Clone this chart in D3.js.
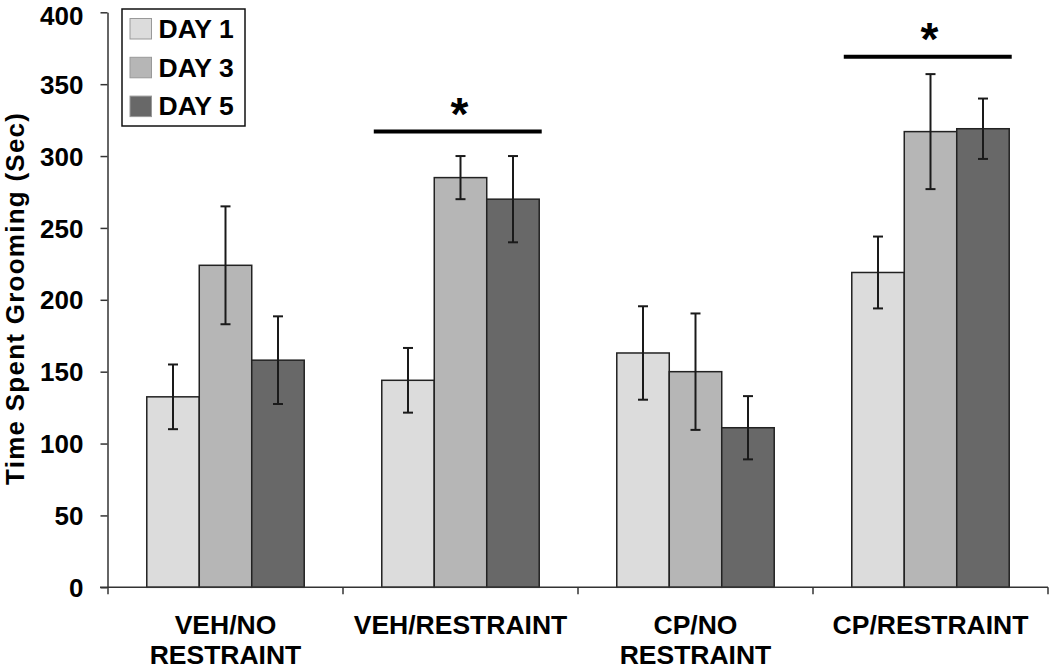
<!DOCTYPE html>
<html>
<head>
<meta charset="utf-8">
<script src="https://cdn.jsdelivr.net/npm/d3@7"></script>
<style>
  html, body { margin: 0; padding: 0; background: #fff; }
  svg { display: block; font-family: "Liberation Sans", Arial, sans-serif; font-weight: bold; }
</style>
</head>
<body>
<svg id="chart" width="1050" height="670"></svg>
<script>
// ---- data ----
const categories = ["VEH/NO RESTRAINT", "VEH/RESTRAINT", "CP/NO RESTRAINT", "CP/RESTRAINT"];
const categoryLines = [["VEH/NO", "RESTRAINT"], ["VEH/RESTRAINT"], ["CP/NO", "RESTRAINT"], ["CP/RESTRAINT"]];
const seriesNames = ["DAY 1", "DAY 3", "DAY 5"];
const day1 = [132.5, 144, 163, 219];
const day3 = [224, 285, 150, 317];
const day5 = [158, 270, 111, 319];
const day1Err = [22.5, 22.5, 32.5, 25];
const day3Err = [41, 15, 40.5, 40];
const day5Err = [30.5, 30, 22, 21];
const yTicks = [0, 50, 100, 150, 200, 250, 300, 350, 400];
const sigCategories = ["VEH/RESTRAINT", "CP/RESTRAINT"];
const sigLevels = [317, 369];
const colors = ["#dcdcdc", "#b6b6b6", "#686868"];

const seriesValues = [day1, day3, day5];
const seriesErrors = [day1Err, day3Err, day5Err];

const svg = d3.select("#chart");

const x = d3.scaleBand().domain(categories).range([108, 1048]).paddingInner(0.33).paddingOuter(0.165);
const xs = d3.scaleBand().domain(seriesNames).range([0, x.bandwidth()]);
const y = d3.scaleLinear().domain([0, 400]).range([587.3, 12.3]);

// bars
const rows = [];
categories.forEach((c, i) => {
  seriesNames.forEach((s, j) => {
    rows.push({ cat: c, ser: s, j, v: seriesValues[j][i], e: seriesErrors[j][i] });
  });
});

const g = svg.append("g");
g.selectAll("rect.bar").data(rows).join("rect")
  .attr("class", "bar")
  .attr("x", d => x(d.cat) + xs(d.ser))
  .attr("y", d => y(d.v))
  .attr("width", xs.bandwidth())
  .attr("height", d => y(0) - y(d.v))
  .attr("fill", d => colors[d.j])
  .attr("stroke", "#222")
  .attr("stroke-width", 1.5);

// error bars
const eg = g.selectAll("g.err").data(rows).join("g").attr("class", "err")
  .attr("stroke", "#1a1a1a").attr("stroke-width", 2);
eg.append("line")
  .attr("x1", d => x(d.cat) + xs(d.ser) + xs.bandwidth() / 2)
  .attr("x2", d => x(d.cat) + xs(d.ser) + xs.bandwidth() / 2)
  .attr("y1", d => y(d.v + d.e))
  .attr("y2", d => y(d.v - d.e));
[1, -1].forEach(sign => {
  eg.append("line")
    .attr("x1", d => x(d.cat) + xs(d.ser) + xs.bandwidth() / 2 - 5)
    .attr("x2", d => x(d.cat) + xs(d.ser) + xs.bandwidth() / 2 + 5)
    .attr("y1", d => y(d.v + sign * d.e))
    .attr("y2", d => y(d.v + sign * d.e));
});

// y axis
const yAxis = d3.axisLeft(y).tickValues(yTicks).tickSize(7).tickSizeOuter(0).tickPadding(17);
const ya = svg.append("g").attr("transform", "translate(107.5,0)").call(yAxis);
ya.select(".domain").attr("stroke", "#333").attr("stroke-width", 1.5);
ya.selectAll(".tick line").attr("stroke", "#333").attr("stroke-width", 1.5);
ya.selectAll(".tick text")
  .attr("font-size", 26).attr("font-weight", "bold").attr("fill", "#000")
  .attr("font-family", "Liberation Sans, Arial, sans-serif")
  .attr("dy", d => d === 400 ? "0.45em" : "0.35em");

// x axis line + boundary ticks
const step = x.step();
const bounds = categories.map(c => x(c) - step * x.paddingInner() / 2);
bounds.push(x(categories[categories.length - 1]) + x.bandwidth() + step * x.paddingInner() / 2);
svg.append("line")
  .attr("x1", 100).attr("x2", bounds[bounds.length - 1])
  .attr("y1", y(0)).attr("y2", y(0))
  .attr("stroke", "#333").attr("stroke-width", 1.5);
svg.selectAll("line.xt").data(bounds).join("line")
  .attr("class", "xt")
  .attr("x1", d => d).attr("x2", d => d)
  .attr("y1", y(0)).attr("y2", y(0) + 7)
  .attr("stroke", "#333").attr("stroke-width", 1.5);

// x labels
const xl = svg.selectAll("text.xl").data(categories).join("text")
  .attr("class", "xl")
  .attr("x", d => x(d) + x.bandwidth() / 2)
  .attr("y", 634)
  .attr("text-anchor", "middle")
  .attr("font-size", 26.5)
  .attr("fill", "#000");
xl.each(function(d, i) {
  const t = d3.select(this);
  categoryLines[i].forEach((line, k) => {
    t.append("tspan").attr("x", x(d) + x.bandwidth() / 2).attr("dy", k === 0 ? 0 : 30).text(line);
  });
});

// y title
svg.append("text")
  .attr("transform", "translate(24,299) rotate(-90)")
  .attr("text-anchor", "middle")
  .attr("font-size", 26)
  .attr("textLength", 372)
  .attr("lengthAdjust", "spacing")
  .attr("fill", "#000")
  .text("Time Spent Grooming (Sec)");

// significance
sigCategories.forEach((c, i) => {
  const x0 = x(c), x1 = x(c) + x.bandwidth();
  svg.append("line")
    .attr("x1", x0 - 8).attr("x2", x1 + 2.5)
    .attr("y1", y(sigLevels[i])).attr("y2", y(sigLevels[i]))
    .attr("stroke", "#000").attr("stroke-width", 4);
  svg.append("text")
    .attr("x", (x0 + x1) / 2 - 1)
    .attr("y", y(sigLevels[i]) - 2)
    .attr("text-anchor", "middle")
    .attr("font-size", 46)
    .attr("fill", "#000")
    .text("*");
});

// legend
const lg = svg.append("g");
lg.append("rect").attr("x", 122).attr("y", 9).attr("width", 123).attr("height", 117)
  .attr("fill", "#fff").attr("stroke", "#111").attr("stroke-width", 1.5);
const li = lg.selectAll("g.li").data(seriesNames).join("g").attr("class", "li")
  .attr("transform", (d, i) => `translate(130,${18.5 + i * 38.8})`);
li.append("rect").attr("width", 21.5).attr("height", 20.5)
  .attr("fill", (d, i) => colors[i]).attr("stroke", "#999").attr("stroke-width", 1);
li.append("text").attr("x", 28.5).attr("y", 19.2).attr("font-size", 26.5).attr("fill", "#000").text(d => d);
</script>
</body>
</html>
